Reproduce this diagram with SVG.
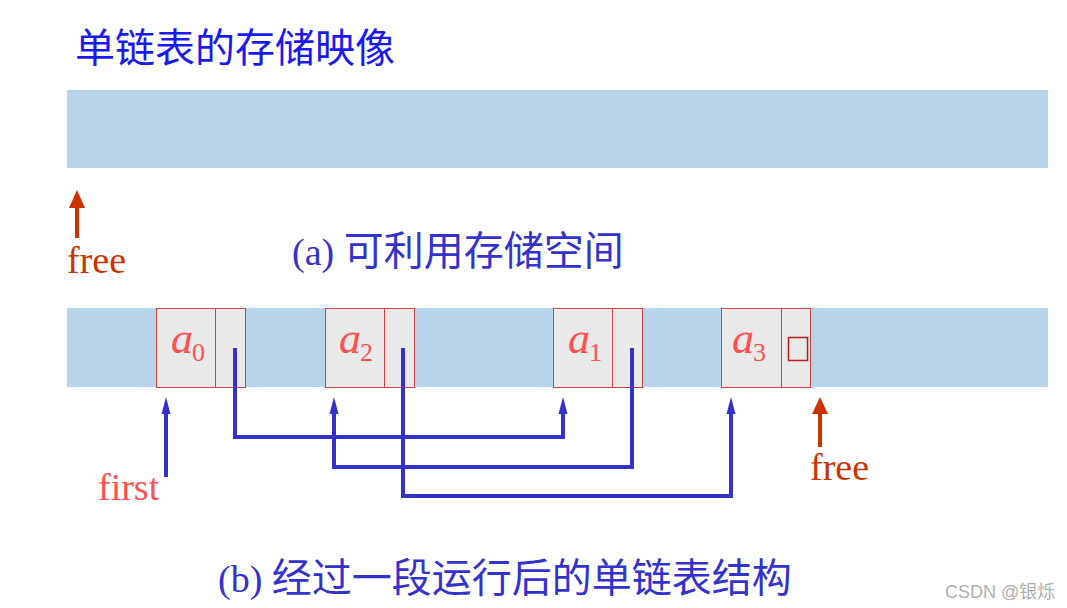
<svg xmlns="http://www.w3.org/2000/svg" width="1067" height="608" viewBox="0 0 1067 608">
<style>
.band{fill:#b8d4eb}
.cell{fill:#e9e9e9;stroke:#cc4444;stroke-width:1}
.lbl{font-family:"Liberation Serif",serif;font-style:italic;fill:#ff5050;font-size:44px}
.sub{font-size:26px;font-style:normal}
.link{fill:none;stroke:#3333cc;stroke-width:4}
.red{fill:#cc3300}
.cap{font-family:"Liberation Serif","Noto Sans CJK SC",serif;font-size:38px;fill:#3333cc}
.cjk{font-family:"Noto Sans CJK SC",sans-serif;font-size:40px}
</style>
<defs>
<marker id="ah" markerWidth="18" markerHeight="10" refX="0" refY="5" orient="auto" markerUnits="userSpaceOnUse" viewBox="0 0 18 10">
<path d="M0,0.5 L17,5 L0,9.5 Z" fill="#3333cc"/>
</marker>
</defs>
<rect width="1067" height="608" fill="#ffffff"/>
<text x="75" y="62" class="cjk" fill="#1a1aee">单链表的存储映像</text>
<rect class="band" x="67" y="90" width="981" height="78"/>
<g id="free-top">
<rect class="red" x="75" y="205" width="4" height="33"/>
<path class="red" d="M69,208 L77,190 L85,208 Z"/>
<text x="67" y="273" font-family="Liberation Serif,serif" font-size="38" fill="#cc3300">free</text>
</g>
<text x="292" y="265" class="cap">(a) <tspan class="cjk">可利用存储空间</tspan></text>
<rect class="band" x="67" y="308" width="981" height="79"/>
<g id="node-a0">
<rect class="cell" x="156.5" y="308.5" width="89" height="79"/>
<line x1="215.5" y1="308.5" x2="215.5" y2="387.5" stroke="#cc4444"/>
<text class="lbl" x="171" y="353">a<tspan class="sub" dx="-1" dy="8">0</tspan></text>
</g>
<g id="node-a2">
<rect class="cell" x="325.5" y="308.5" width="89" height="79"/>
<line x1="384.5" y1="308.5" x2="384.5" y2="387.5" stroke="#cc4444"/>
<text class="lbl" x="339" y="353">a<tspan class="sub" dx="-1" dy="8">2</tspan></text>
</g>
<g id="node-a1">
<rect class="cell" x="553.5" y="308.5" width="89" height="79"/>
<line x1="612.5" y1="308.5" x2="612.5" y2="387.5" stroke="#cc4444"/>
<text class="lbl" x="568" y="353">a<tspan class="sub" dx="-1" dy="8">1</tspan></text>
</g>
<g id="node-a3">
<rect class="cell" x="721.5" y="308.5" width="89" height="79"/>
<line x1="781.5" y1="308.5" x2="781.5" y2="387.5" stroke="#cc4444"/>
<text class="lbl" x="732" y="353">a<tspan class="sub" dx="-1" dy="8">3</tspan></text>
<rect x="788.5" y="337.5" width="19" height="23" fill="none" stroke="#b81c1c" stroke-width="1.5"/>
</g>
<g id="connectors">
<path class="link" d="M235,348 V437 H563 V414" marker-end="url(#ah)"/>
<path class="link" d="M632,348 V467 H334 V414" marker-end="url(#ah)"/>
<path class="link" d="M403,348 V496 H731 V414" marker-end="url(#ah)"/>
<path class="link" d="M166,477 V414" marker-end="url(#ah)"/>
</g>
<g id="first-label">
<text x="98" y="500" font-family="Liberation Serif,serif" font-size="38" fill="#ff5050">first</text>
</g>
<g id="free-bottom">
<rect class="red" x="818" y="412" width="4" height="35"/>
<path class="red" d="M812,414 L820,397 L828,414 Z"/>
<text x="810" y="480" font-family="Liberation Serif,serif" font-size="38" fill="#cc3300">free</text>
</g>
<text x="218" y="592" class="cap">(b) <tspan class="cjk">经过一段运行后的单链表结构</tspan></text>
<text x="945" y="598" font-family="Liberation Sans,Noto Sans CJK SC,sans-serif" font-size="18" fill="#b0b0b0">CSDN @银烁</text>
</svg>
